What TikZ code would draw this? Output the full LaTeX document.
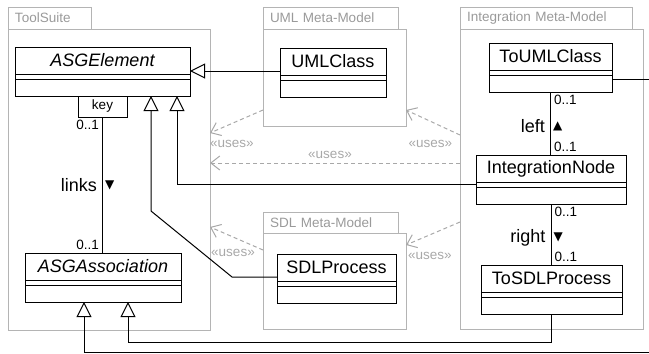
\documentclass[tikz,border=0pt]{standalone}
\usepackage{fontspec}
\setmainfont{Liberation Sans}
\newfontfamily\symfont{DejaVu Sans}
\usetikzlibrary{arrows.meta,positioning}
\definecolor{pkggray}{HTML}{B4B4B4}
\definecolor{pkgtext}{HTML}{9A9A9A}
\definecolor{usesgray}{HTML}{A8A8A8}
\newcommand{\namesize}{\fontsize{18}{21}\selectfont}
\newcommand{\labelsize}{\fontsize{13.5}{16}\selectfont}

\tikzset{
  pkgtab/.style={draw=pkggray, line width=1pt, anchor=north west, minimum height=22pt,
    inner xsep=7pt, inner ysep=0pt, outer sep=0pt, align=left, text=pkgtext, font=\labelsize},
  pkgbody/.style={draw=pkggray, line width=1pt, anchor=north west, inner sep=0pt, outer sep=0pt},
  clsname/.style={draw, line width=1pt, fill=white, anchor=north west,
    minimum height=27pt, inner sep=0pt, outer sep=0pt, font=\namesize},
  clsattr/.style={draw, line width=1pt, anchor=north, minimum height=5pt, inner sep=0pt, outer sep=0pt},
  clsops/.style={draw, line width=1pt, anchor=north, minimum height=17pt, inner sep=0pt, outer sep=0pt},
  gen/.style={line width=1pt, -{Triangle[open, length=15pt, width=15pt]}},
  assoc/.style={line width=1pt},
  uses/.style={draw=usesgray, line width=1pt, dash pattern=on 4pt off 3pt,
    -{Straight Barb[length=9pt, width=14pt]}},
  useslabel/.style={text=usesgray, font=\labelsize, inner sep=0pt},
  mult/.style={font=\labelsize, inner sep=3pt},
  role/.style={font=\namesize, inner sep=5pt},
  dir/.style={font=\symfont\fontsize{12}{12}\selectfont, inner sep=2pt}
}

% class = name, attributes and operations compartments
\newcommand{\umlclass}[4]{%
  \node[clsname, minimum width=#3] (#1) at (#2) {#4};
  \node[clsattr, minimum width=#3] (#1-a) at (#1.south) {};
  \node[clsops, minimum width=#3] (#1-o) at (#1-a.south) {};
}

\begin{document}
\begin{tikzpicture}[x=1pt, y=-1pt]

    \useasboundingbox (0,0) rectangle (649,354);

    % packages
    \node[pkgtab, text width=69pt] (tooltab) at (8,7) {ToolSuite};
    \node[pkgbody, minimum width=202pt, minimum height=301pt] (toolpkg) at (tooltab.south west) {};
    \node[pkgtab, text width=121pt] (umltab) at (263,7) {UML Meta-Model};
    \node[pkgbody, minimum width=143pt, minimum height=97pt] (umlpkg) at (umltab.south west) {};
    \node[pkgtab, text width=121pt, minimum height=21pt] (sdltab) at (263,212) {SDL Meta-Model};
    \node[pkgbody, minimum width=143pt, minimum height=96pt] (sdlpkg) at (sdltab.south west) {};
    \node[pkgtab, text width=158pt] (inttab) at (460,7) {Integration Meta-Model};
    \node[pkgbody, minimum width=183pt, minimum height=300pt] (intpkg) at (inttab.south west) {};

    % classes
    \umlclass{asgelem}{15,47}{175pt}{\itshape ASGElement}
    \umlclass{asgassoc}{25,253}{156pt}{\itshape ASGAssociation}
    \umlclass{umlclass}{280,48}{106pt}{UMLClass}
    \umlclass{sdlproc}{277,254}{119pt}{SDLProcess}
    \umlclass{toumlclass}{489,43}{123pt}{ToUMLClass}
    \umlclass{intnode}{476,155}{150pt}{IntegrationNode}
    \umlclass{tosdl}{481,265}{141pt}{ToSDLProcess}

    \node[draw, line width=1pt, anchor=north west, minimum width=49pt, minimum height=21pt,
      inner sep=0pt, outer sep=0pt, font=\labelsize] (key) at ([xshift=63pt]asgelem-o.south west) {key};

    % generalizations
    \draw[gen] ([yshift=4pt]umlclass.south west) -- ([yshift=4pt]umlclass.south west -| asgelem.east);
    \draw[gen] (intnode-a.west) -| ([xshift=-13pt]asgelem-o.south east);
    \draw[gen] ([yshift=4pt]sdlproc.south west) -- ++(-45,0) -- ++(-81,-66)
      -- ([xshift=-39pt]asgelem-o.south east);
    \draw[gen] (tosdl-o.south) |- ([xshift=103pt]asgassoc-o.south west |- 0,342)
      -- ([xshift=103pt]asgassoc-o.south west);
    \draw[gen] ([yshift=-4pt]toumlclass-o.north east) -- ++(48,0)
      |- ([xshift=59pt]asgassoc-o.south west |- 0,352) -- ([xshift=59pt]asgassoc-o.south west);

    % associations
    \draw[assoc] (key.south) -- (key.south |- asgassoc.north)
      node[mult, pos=0, anchor=north east] {0..1}
      node[mult, pos=1, anchor=south east] {0..1}
      node[role, midway, anchor=east] {links}
      node[dir, midway, anchor=west] {▼};
    \draw[assoc] (toumlclass-o.south) -- (toumlclass-o.south |- intnode.north)
      node[mult, pos=0, anchor=north west] {0..1}
      node[mult, pos=1, anchor=south west] {0..1}
      node[role, midway, anchor=east, yshift=-3pt] {left}
      node[dir, midway, anchor=west, yshift=-3pt] {▲};
    \draw[assoc] (intnode-o.south) -- (intnode-o.south |- tosdl.north)
      node[mult, pos=0, anchor=north west] {0..1}
      node[mult, pos=1, anchor=south west] {0..1}
      node[role, midway, anchor=east, yshift=-3pt] {right}
      node[dir, midway, anchor=west, yshift=-3pt] {▼};

    % dependencies
    \draw[uses] (intpkg.west |- 0,135) -- ([yshift=16pt]umlpkg.south east)
      node[useslabel, pos=0.55, yshift=-23pt] {«uses»};
    \draw[uses] ([yshift=16pt]umlpkg.south west) -- (toolpkg.east |- 0,133)
      node[useslabel, pos=0.585, yshift=-20pt] {«uses»};
    \draw[uses] (intpkg.west |- 0,163) -- (toolpkg.east |- 0,163)
      node[useslabel, pos=0.52, yshift=8pt] {«uses»};
    \draw[uses] (sdlpkg.west |- 0,250) -- (toolpkg.east |- 0,227)
      node[useslabel, pos=0.566, yshift=-16pt] {«uses»};
    \draw[uses] (intpkg.west |- 0,222) -- (sdlpkg.east |- 0,245)
      node[useslabel, pos=0.556, yshift=-21pt] {«uses»};

\end{tikzpicture}
\end{document}
